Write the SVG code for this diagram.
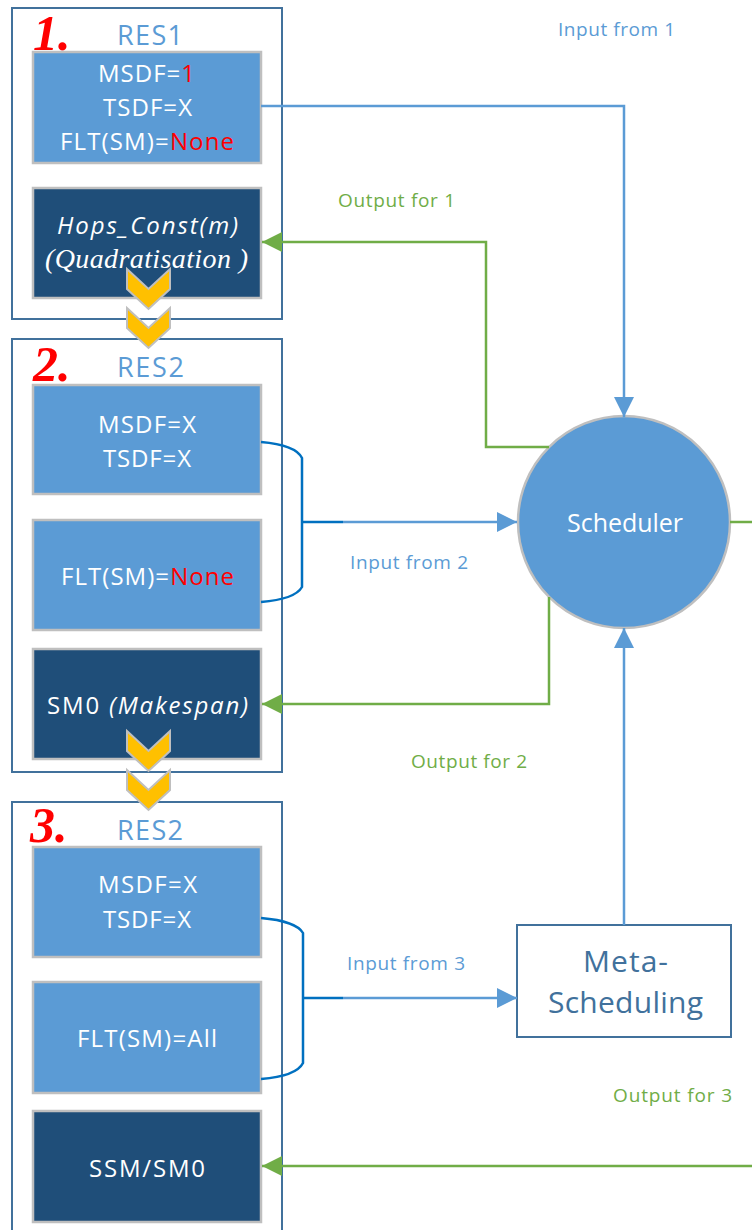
<svg xmlns="http://www.w3.org/2000/svg" width="752" height="1230" viewBox="0 0 752 1230">
<style>
.cont{fill:#fff;stroke:#41719C;stroke-width:2}
.lb{fill:#5B9BD5;stroke:#BFBFBF;stroke-width:2.5}
.db{fill:#1F4E79;stroke:#BFBFBF;stroke-width:2.5}
.bt{font-family:"Open Sans","Liberation Sans",sans-serif;font-size:24px;fill:#fff}
.res{font-family:"Open Sans","Liberation Sans",sans-serif;font-size:27px;fill:#5B9BD5}
.num{font-family:"Liberation Serif",serif;font-size:50px;font-weight:bold;font-style:italic;fill:#FF0000}
.red{fill:#FF0000}
.chev{fill:#FFC000;stroke:#BFBFBF;stroke-width:2}
.inl{font-family:"Open Sans","Liberation Sans",sans-serif;font-size:19px;fill:#5B9BD5}
.outl{font-family:"Open Sans","Liberation Sans",sans-serif;font-size:19px;fill:#70AD47}
.bl{fill:none;stroke:#5B9BD5;stroke-width:2.5}
.dk{fill:none;stroke:#0070C0;stroke-width:2.5}
.gr{fill:none;stroke:#70AD47;stroke-width:2.5}
</style>
<defs>
<marker id="ab" markerWidth="20" markerHeight="20" refX="20" refY="10" orient="auto" markerUnits="userSpaceOnUse"><path d="M0,0 L20,10 L0,20 z" fill="#5B9BD5"/></marker>
<marker id="ag" markerWidth="20" markerHeight="20" refX="20" refY="10" orient="auto" markerUnits="userSpaceOnUse"><path d="M0,0 L20,10 L0,20 z" fill="#70AD47"/></marker>
</defs>

<g id="res1">
<rect class="cont" x="12" y="8" width="270" height="311"/>
<text class="num" x="33" y="50">1.</text>
<text class="res" x="117" y="45" textLength="66" lengthAdjust="spacing">RES1</text>
<rect class="lb" x="33" y="52" width="228" height="111"/>
<text class="bt" x="98" y="82" textLength="97" lengthAdjust="spacing">MSDF=<tspan class="red">1</tspan></text>
<text class="bt" x="103" y="116" textLength="89" lengthAdjust="spacing">TSDF=X</text>
<text class="bt" x="60" y="150" textLength="174" lengthAdjust="spacing">FLT(SM)=<tspan class="red">None</tspan></text>
<rect class="db" x="33" y="188" width="228" height="110"/>
<text class="bt" x="57" y="234" font-style="italic" textLength="181" lengthAdjust="spacing">Hops_Const(m)</text>
<text class="bt" x="45" y="268" style="font-family:'Liberation Serif',serif;font-size:28px;font-style:italic" textLength="203" lengthAdjust="spacing">(Quadratisation )</text>
</g>

<g id="res2">
<rect class="cont" x="12" y="339" width="270" height="433"/>
<text class="num" x="33" y="381">2.</text>
<text class="res" x="117" y="377" textLength="67" lengthAdjust="spacing">RES2</text>
<rect class="lb" x="33" y="385" width="228" height="109"/>
<text class="bt" x="98" y="433" textLength="98" lengthAdjust="spacing">MSDF=X</text>
<text class="bt" x="103" y="467" textLength="88" lengthAdjust="spacing">TSDF=X</text>
<rect class="lb" x="33" y="520" width="228" height="110"/>
<text class="bt" x="61" y="585" textLength="173" lengthAdjust="spacing">FLT(SM)=<tspan class="red">None</tspan></text>
<rect class="db" x="33" y="649" width="228" height="110"/>
<text class="bt" x="47" y="714" textLength="201" lengthAdjust="spacing">SM0 <tspan font-style="italic">(Makespan)</tspan></text>
</g>

<g id="res3">
<rect class="cont" x="12" y="802" width="270" height="440"/>
<text class="num" x="30" y="842">3.</text>
<text class="res" x="117" y="840" textLength="66" lengthAdjust="spacing">RES2</text>
<rect class="lb" x="33" y="847" width="228" height="110"/>
<text class="bt" x="98" y="893" textLength="99" lengthAdjust="spacing">MSDF=X</text>
<text class="bt" x="103" y="928" textLength="88" lengthAdjust="spacing">TSDF=X</text>
<rect class="lb" x="33" y="982" width="228" height="111"/>
<text class="bt" x="77" y="1047" textLength="140" lengthAdjust="spacing">FLT(SM)=All</text>
<rect class="db" x="33" y="1111" width="228" height="111"/>
<text class="bt" x="89" y="1177" textLength="116" lengthAdjust="spacing">SSM/SM0</text>
</g>

<g id="chevrons">
<polygon class="chev" points="127,269 148.5,289 170,269 170,289 148.5,309 127,289"/>
<polygon class="chev" points="127,308 148.5,328 170,308 170,328 148.5,348 127,328"/>
<polygon class="chev" points="127,731 148.5,751 170,731 170,751 148.5,771 127,751"/>
<polygon class="chev" points="127,770 148.5,790 170,770 170,790 148.5,810 127,790"/>
</g>

<g id="scheduler">
<circle cx="624" cy="522" r="106" fill="#5B9BD5" stroke="#BFBFBF" stroke-width="2.5"/>
<text x="567" y="532" font-family="Open Sans, Liberation Sans, sans-serif" font-size="25" fill="#fff" textLength="116" lengthAdjust="spacing">Scheduler</text>
</g>

<g id="meta-scheduling">
<rect x="517" y="925" width="214" height="112" fill="#fff" stroke="#41719C" stroke-width="2"/>
<text x="583" y="972" font-family="Open Sans, Liberation Sans, sans-serif" font-size="30" fill="#41719C" textLength="85" lengthAdjust="spacing">Meta-</text>
<text x="548" y="1013" font-family="Open Sans, Liberation Sans, sans-serif" font-size="30" fill="#41719C" textLength="155" lengthAdjust="spacing">Scheduling</text>
</g>

<g id="connectors">
<path class="bl" d="M261,106 H624 V417" marker-end="url(#ab)"/>
<path class="gr" d="M549,447 H486 V242 H262" marker-end="url(#ag)"/>
<path class="dk" d="M261,442 C285,444 298,450 302,458 V587 C298,594 285,600 261,602"/>
<path class="dk" d="M302,522 H343"/>
<path class="bl" d="M343,522 H517" marker-end="url(#ab)"/>
<path class="gr" d="M549,597 V704 H262" marker-end="url(#ag)"/>
<path class="gr" d="M730,522 H752"/>
<path class="bl" d="M624,925 V628" marker-end="url(#ab)"/>
<path class="dk" d="M261,918 C285,920 299,926 303,933 V1063 C299,1071 285,1077 261,1079"/>
<path class="dk" d="M303,998 H343"/>
<path class="bl" d="M343,998 H517" marker-end="url(#ab)"/>
<path class="gr" d="M752,1166 H262" marker-end="url(#ag)"/>
</g>

<g id="labels">
<text class="inl" x="558" y="36" textLength="117" lengthAdjust="spacing">Input from 1</text>
<text class="outl" x="338" y="207" textLength="117" lengthAdjust="spacing">Output for 1</text>
<text class="inl" x="350" y="569" textLength="118" lengthAdjust="spacing">Input from 2</text>
<text class="outl" x="411" y="768" textLength="116" lengthAdjust="spacing">Output for 2</text>
<text class="inl" x="347" y="970" textLength="118" lengthAdjust="spacing">Input from 3</text>
<text class="outl" x="613" y="1102" textLength="119" lengthAdjust="spacing">Output for 3</text>
</g>
</svg>
